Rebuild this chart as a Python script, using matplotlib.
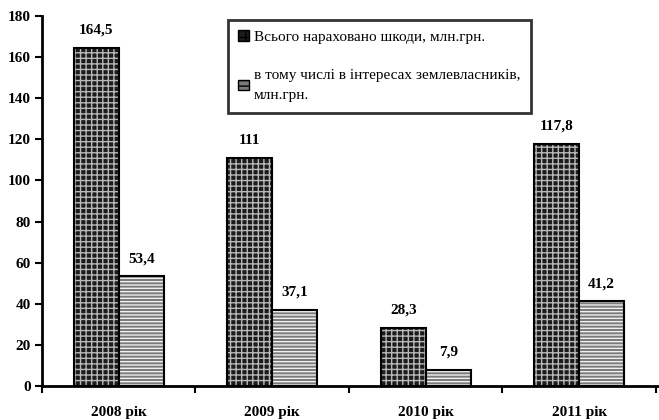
import matplotlib
matplotlib.use("Agg")
import matplotlib.pyplot as plt
import numpy as np
from matplotlib.patches import Patch

categories = ["2008 рік", "2009 рік", "2010 рік", "2011 рік"]
total_damage = [164.5, 111, 28.3, 117.8]
landowners = [53.4, 37.1, 7.9, 41.2]
total_labels = ["164,5", "111", "28,3", "117,8"]
land_labels = ["53,4", "37,1", "7,9", "41,2"]
series_names = ["Всього нараховано шкоди, млн.грн.",
                "в тому числі в інтересах землевласників,\nмлн.грн."]
yticks = [0, 20, 40, 60, 80, 100, 120, 140, 160, 180]

plt.rcParams['font.family'] = ['Liberation Serif', 'DejaVu Serif']
plt.rcParams['hatch.linewidth'] = 1.0

fig = plt.figure(figsize=(6.59, 4.2), dpi=100)
ax = fig.add_axes([42/659, 34/420, 617/659, 370/420])

x = np.arange(len(categories))
w = 0.293

# dark bars
ax.bar(x - w/2, total_damage, w, color='#1c1c1c', hatch='+++', edgecolor='#b8b8b8', linewidth=0)
ax.bar(x - w/2, total_damage, w, fill=False, edgecolor='black', linewidth=1.5)
# striped bars
ax.bar(x + w/2, landowners, w, color='#7a7a7a', hatch='-----', edgecolor='#f0f0f0', linewidth=0)
ax.bar(x + w/2, landowners, w, fill=False, edgecolor='black', linewidth=1.5)

for i in range(len(categories)):
    ax.annotate(total_labels[i], (x[i] - w/2, total_damage[i]), xytext=(0, 8),
                textcoords='offset points', ha='center', va='bottom',
                fontsize=11, fontweight='bold')
    ax.annotate(land_labels[i], (x[i] + w/2, landowners[i]), xytext=(0, 8),
                textcoords='offset points', ha='center', va='bottom',
                fontsize=11, fontweight='bold')

ax.set_xlim(-0.5, len(categories) - 0.5 + 0.02)
ax.set_ylim(0, 180)
ax.set_yticks(yticks)
ax.set_yticklabels([str(t) for t in yticks], fontsize=11, fontweight='bold')
ax.set_xticks(x)
ax.set_xticklabels(categories, fontsize=11, fontweight='bold')
ax.tick_params(axis='x', which='major', length=0, pad=14)
ax.set_xticks(np.arange(len(categories) + 1) - 0.5, minor=True)
ax.tick_params(axis='x', which='minor', length=5, width=1.5, direction='out')
ax.tick_params(axis='y', length=5, width=1.5, direction='out', pad=3)

for s in ['top', 'right']:
    ax.spines[s].set_visible(False)
ax.spines['left'].set_linewidth(2)
ax.spines['bottom'].set_linewidth(2)

handles = [Patch(facecolor='#1c1c1c', edgecolor='black', hatch='++'),
           Patch(facecolor='#7a7a7a', edgecolor='black', hatch='---')]
leg = ax.legend(handles, series_names, loc='upper left', bbox_to_anchor=(0.301, 0.99),
                borderaxespad=0, fontsize=11, frameon=True, fancybox=False,
                edgecolor='black', handlelength=0.7, handleheight=0.7,
                handletextpad=0.3, labelspacing=1.6, borderpad=0.7)
for t in leg.get_texts():
    t.set_linespacing(1.75)
leg.get_frame().set_linewidth(2)

fig.savefig("out.png", dpi=100)
